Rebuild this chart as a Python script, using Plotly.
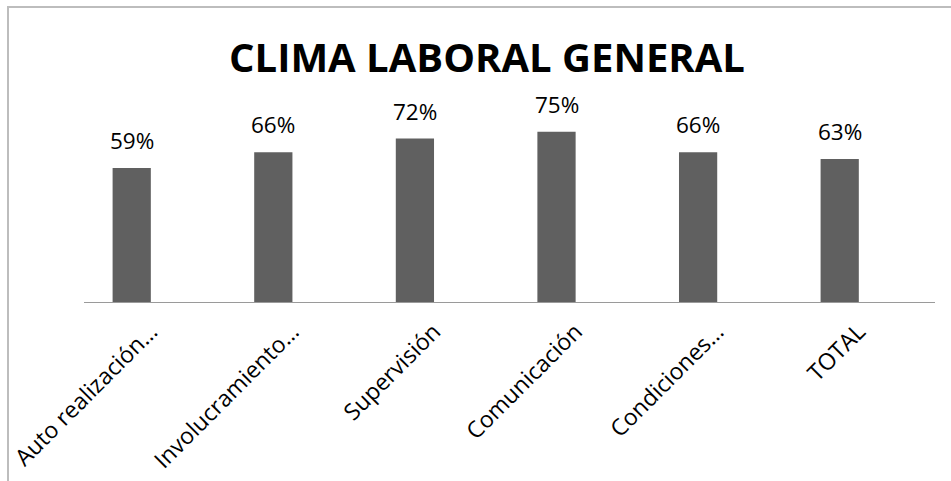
import plotly.graph_objects as go

# Data
categorias = ["Auto realización…", "Involucramiento…", "Supervisión",
              "Comunicación", "Condiciones…", "TOTAL"]
valores = [0.59, 0.66, 0.72, 0.75, 0.66, 0.63]
titulo = "CLIMA LABORAL GENERAL"

W, H = 951, 481
ML, MR, MT, MB = 84, 16, 75, 179
FONT = "Open Sans"

fig = go.Figure()
fig.add_trace(go.Bar(
    x=list(range(len(categorias))),
    y=valores,
    marker=dict(color="#606060", line=dict(width=0)),
    width=0.27,
    hoverinfo="skip",
))

# Value labels above each bar
for i, v in enumerate(valores):
    fig.add_annotation(
        x=i, y=v, xref="x", yref="y",
        text=f"{round(v * 100)}%",
        showarrow=False, yanchor="bottom", yshift=10,
        font=dict(family=FONT, size=22.5, color="#000000"),
    )

# Chart frame (left and top edges visible)
pw = W - ML - MR
ph = H - MT - MB
fig.add_shape(
    type="rect", xref="paper", yref="paper",
    x0=(8 - ML) / pw, x1=(1100 - ML) / pw,
    y0=-(600 - (H - MB)) / ph, y1=((H - MB) - 7) / ph,
    line=dict(color="#bdbdbd", width=2), fillcolor="rgba(0,0,0,0)",
    layer="below",
)

fig.update_layout(
    width=W, height=H,
    margin=dict(l=ML, r=MR, t=MT, b=MB, pad=0, autoexpand=False),
    paper_bgcolor="white", plot_bgcolor="white",
    showlegend=False,
    title=dict(
        text=f"<b>{titulo}</b>",
        x=487 / W, xanchor="center",
        y=1 - 58 / H, yanchor="middle",
        font=dict(family=FONT, size=40, color="#000000"),
    ),
    xaxis=dict(
        range=[-0.337, 5.673],
        automargin=False,
        tickmode="array",
        tickvals=list(range(len(categorias))),
        ticktext=categorias,
        tickangle=-45,
        ticks="",
        showgrid=False, zeroline=False,
        showline=True, linecolor="#9a9a9a", linewidth=1,
        tickfont=dict(family=FONT, size=23, color="#000000"),
        ticklabelshift=19,
        ticklabelstandoff=6,
    ),
    yaxis=dict(
        range=[0, 1],
        visible=False,
        automargin=False,
        showgrid=False, zeroline=False,
    ),
    bargap=0.73,
)

fig.write_html("out.html")
